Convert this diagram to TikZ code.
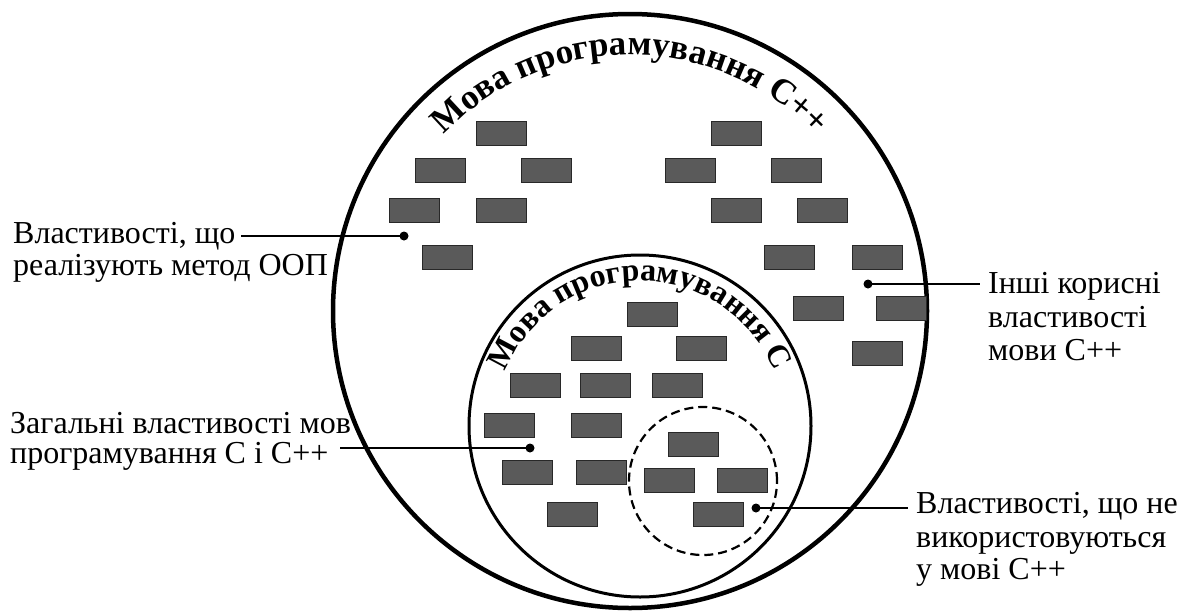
\documentclass[tikz,border=0pt]{standalone}
\usepackage{fontspec}
\setmainfont{Liberation Serif}
\usetikzlibrary{decorations.text,calc}
\definecolor{boxgray}{RGB}{90,90,90}
\definecolor{boxedge}{RGB}{40,40,40}
\begin{document}
\begin{tikzpicture}[x=1pt,y=-1pt,
  box/.style={fill=boxgray, draw=boxedge, line width=1pt, minimum width=50pt, minimum height=24pt, inner sep=0pt, anchor=north west},
  dotm/.style={circle, fill=black, inner sep=0pt, minimum size=9pt},
  lead/.style={line width=1.8pt},
  lbl/.style={font=\fontsize{32}{34}\selectfont, inner sep=0pt, anchor=base west},
  ring/.style={circle, draw, inner sep=0pt},
]
\useasboundingbox (0,0) rectangle (1179,614);
% circles
\node[ring, line width=4.5pt, minimum size=594pt] (outer) at (630,311) {};
\node[ring, line width=3pt, minimum size=342pt] (inner) at (640,426) {};
\node[ring, line width=2.2pt, dash pattern=on 9pt off 5pt, minimum size=148pt] (unused) at (703,481) {};
% curved titles
\path[decorate, decoration={text along path, text align=center,
  text={|\fontsize{35}{35}\selectfont\bfseries|Мова програмування С++}}]
  (630,311) ++(180:256) arc[start angle=180, end angle=360, radius=256];
\path[decorate, decoration={text along path, text align=center,
  text={|\fontsize{32}{32}\selectfont\bfseries|Мова програмування С}}]
  (640,426) ++(180:145) arc[start angle=180, end angle=360, radius=145];
% boxes: outer left group
\node[box] (a1) at (476,121) {};
\node[box] (a2) at (415,158) {};
\node[box] (a3) at (521,158) {};
\node[box] (a4) at (389,198) {};
\node[box] (a5) at (476,198) {};
\node[box] (a6) at (422,245) {};
% outer right group
\node[box] (r1) at (711,121) {};
\node[box] (r2) at (665,158) {};
\node[box] (r3) at (771,158) {};
\node[box] (r4) at (711,198) {};
\node[box] (r5) at (797,198) {};
\node[box] (r6) at (764,245) {};
\node[box] (r7) at (852,245) {};
\node[box] (r8) at (793,296) {};
\node[box] (r9) at (876,296) {};
\node[box] (r10) at (852,341) {};
% inner circle group
\node[box] (c1) at (627,302) {};
\node[box] (c2) at (571,336) {};
\node[box] (c3) at (676,336) {};
\node[box] (c4) at (510,373) {};
\node[box] (c5) at (580,373) {};
\node[box] (c6) at (652,373) {};
\node[box] (c7) at (484,413) {};
\node[box] (c8) at (571,413) {};
\node[box] (c9) at (502,460) {};
\node[box] (c10) at (576,460) {};
\node[box] (c11) at (547,502) {};
% dashed circle group
\node[box] (u1) at (668,432) {};
\node[box] (u2) at (644,468) {};
\node[box] (u3) at (717,468) {};
\node[box] (u4) at (693,502) {};
% labels
\node[lbl] (oop1) at (13,243) {Властивості, що};
\node[lbl] (oop2) at (13,275) {реалізують метод ООП};
\node[lbl] (gen1) at (10,433) {Загальні властивості мов};
\node[lbl] (gen2) at (10,463) {програмування С і С++};
\node[lbl] (oth1) at (988,293) {Інші корисні};
\node[lbl] (oth2) at (988,327) {властивості};
\node[lbl] (oth3) at (988,360) {мови С++};
\node[lbl] (nu1) at (916,513) {Властивості, що не};
\node[lbl] (nu2) at (916,547) {використовуються};
\node[lbl] (nu3) at (916,579) {у мові С++};
% dots and leaders
\node[dotm] (d1) at (404,236) {};
\node[dotm] (d2) at (530,448) {};
\node[dotm] (d3) at (868,284) {};
\node[dotm] (d4) at (756,508) {};
\draw[lead] (d1.center) -- ($(d1.center -| oop1.east)+(5,0)$);
\draw[lead] (d2.center) -- ($(d2.center -| gen2.east)+(11,0)$);
\draw[lead] (d3.center) -- ($(d3.center -| oth1.west)+(-8,0)$);
\draw[lead] (d4.center) -- ($(d4.center -| nu1.west)+(-8,0)$);
\end{tikzpicture}
\end{document}
